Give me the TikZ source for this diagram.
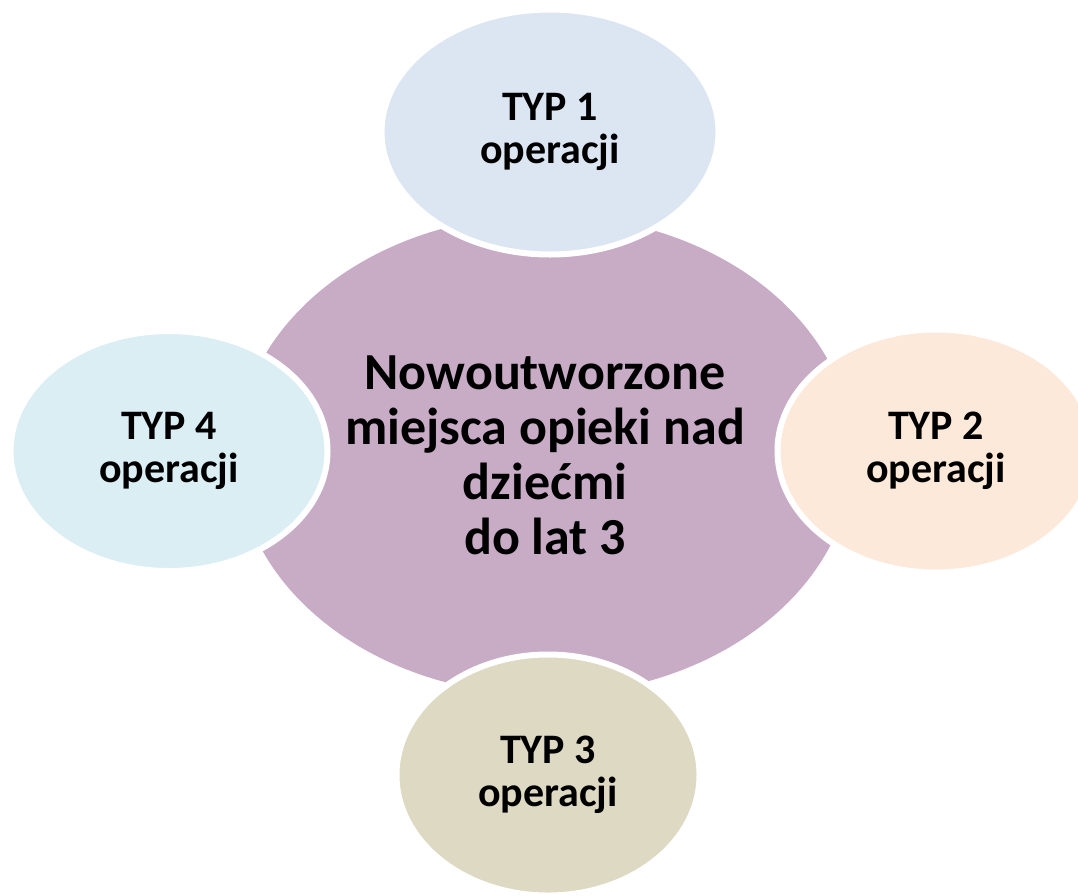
\documentclass[tikz,border=0pt]{standalone}
\usepackage{fontspec}
\setmainfont{Carlito}
\usetikzlibrary{shapes.geometric}
\definecolor{cpurple}{HTML}{C8ACC6}
\definecolor{cblue}{HTML}{DCE6F2}
\definecolor{cpeach}{HTML}{FDE9D9}
\definecolor{colive}{HTML}{DDD9C3}
\definecolor{ccyan}{HTML}{DBEEF4}
\tikzset{
  center/.style={ellipse, fill=cpurple, inner sep=0pt, align=center,
    font=\fontsize{52}{55}\selectfont\bfseries},
  petal/.style={ellipse, draw=white, line width=6pt, inner sep=0pt, align=center,
    font=\fontsize{42}{43}\selectfont\bfseries}
}
\begin{document}
\begin{tikzpicture}[x=1pt,y=-1pt]
\useasboundingbox (0,0) rectangle (1078,895);
\clip (0,0) rectangle (1078,895);
\node[center, minimum width=616pt, minimum height=480pt] (c) at (545,455)
  {Nowoutworzone\\miejsca opieki nad\\dziećmi\\do lat 3};
\node[petal, fill=cblue, minimum width=337pt, minimum height=245pt] (t1) at (550,132) {TYP 1\\operacji};
\node[petal, fill=cpeach, minimum width=317pt, minimum height=243pt] (t2) at (936,451) {TYP 2\\operacji};
\node[petal, fill=colive, minimum width=303pt, minimum height=241pt] (t3) at (548,775) {TYP 3\\operacji};
\node[petal, fill=ccyan, minimum width=317pt, minimum height=240pt] (t4) at (169,451) {TYP 4\\operacji};
\end{tikzpicture}
\end{document}
